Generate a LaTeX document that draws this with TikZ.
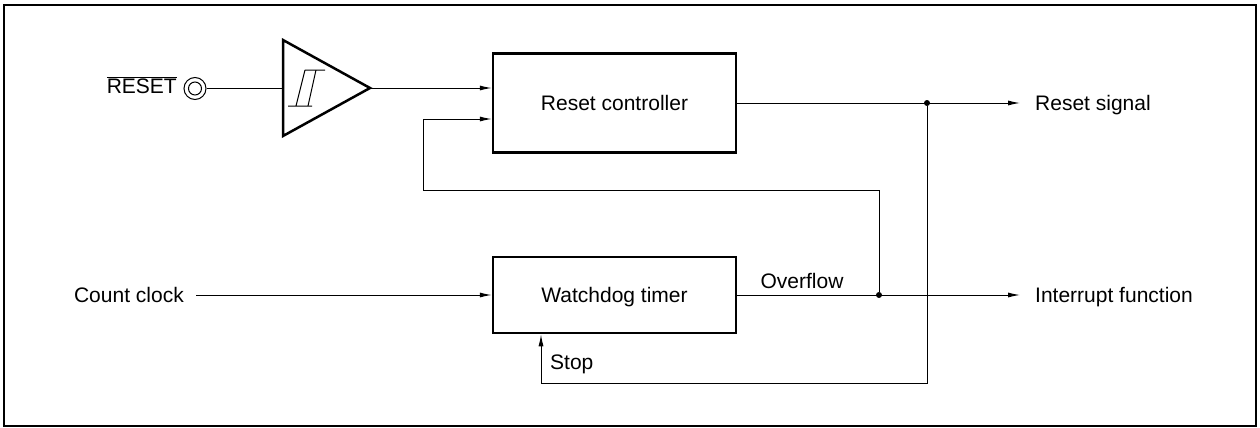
\documentclass[tikz,border=0pt]{standalone}
\usepackage{fontspec}
\setmainfont{Liberation Sans}
\usetikzlibrary{arrows.meta}
\tikzstyle{blk}=[rectangle,draw=black,line width=2.5pt,minimum width=243pt,inner sep=0pt,text height=15pt,text depth=0pt]
\tikzstyle{lbl}=[inner sep=0pt]
\tikzstyle{wire}=[line width=1pt]
\tikzstyle{dot}=[circle,fill=black,inner sep=0pt,minimum size=6pt]

\begin{document}
\begin{tikzpicture}[x=1pt,y=-1pt,>={Latex[length=12pt,width=5pt]},font=\fontsize{21}{25}\selectfont]
\useasboundingbox (0,0) rectangle (1260,428);
\draw[line width=1.5pt] (4,5) rectangle (1256,426);
\node[lbl,anchor=base east] (rst) at (177,93) {$\overline{\hbox{RESET}}$};
\node[circle,draw,wire,minimum size=22pt,inner sep=0pt] (pin) at (195,88.5) {};
\node[circle,draw,wire,minimum size=13pt,inner sep=0pt] at (pin) {};
\coordinate (bin) at (283,88.5);
\coordinate (bout) at (370,88);
\draw[line width=2.5pt,line join=miter] (bin) |- (283,40) -- (bout) -- (283,136) -- (bin);
\draw[wire] (288,106) -- (312,106) (296,106) -- (305,70) (308,106) -- (316,70) (305,70) -- (325,70);
\node[blk,minimum height=99pt] (rc) at (614.5,103) {Reset controller};
\node[blk,minimum height=76pt] (wd) at (614.5,295) {Watchdog timer};
\node[lbl,anchor=base west] (rs) at (1035,110) {Reset signal};
\node[lbl,anchor=base west] (irq) at (1035,302) {Interrupt function};
\node[lbl,anchor=base east] (cc) at (184,302) {Count clock};
\node[lbl,anchor=base] (ovf) at (802,288) {Overflow};
\node[lbl,anchor=base west] (stp) at (550,369) {Stop};
\node[dot] (j1) at (927,103) {};
\node[dot] (j2) at (879,295) {};
\coordinate (fb) at (423,119);
\coordinate (sp) at (541,383);
\draw[wire] (pin) -- (bin);
\draw[wire,->] (bout) -- (bout -| rc.west);
\draw[wire,->] (fb) -- (fb -| rc.west);
\draw[wire,->,shorten >=15pt] (rc.east) -- (rc.east -| rs.west);
\draw[wire,->,shorten <=12pt] (cc.east |- wd.west) -- (wd.west);
\draw[wire,->,shorten >=15pt] (wd.east) -- (wd.east -| irq.west);
\draw[wire] (j2) |- (423,190) -- (fb);
\draw[wire,->] (j1) |- (sp) -- (sp |- wd.south);
%\draw[wire] (ovf) -- (j2);
\end{tikzpicture}
\end{document}
